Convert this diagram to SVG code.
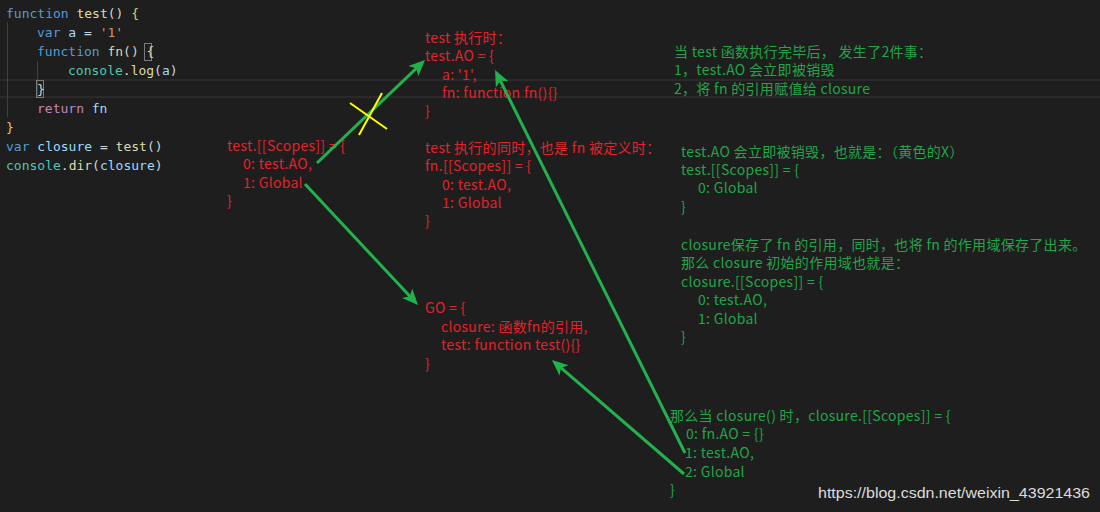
<svg xmlns="http://www.w3.org/2000/svg" width="1100" height="512" viewBox="0 0 1100 512">
<style>
.code{font-family:"DejaVu Sans Mono","Liberation Mono",monospace;font-size:13px;fill:#d4d4d4}
.kw{fill:#569cd6}.fnn{fill:#dcdcaa}.var{fill:#9cdcfe}.str{fill:#ce9178}.cls{fill:#4ec9b0}.ret{fill:#c586c0}.br{fill:#e6c862}
.t{font-family:"Noto Sans CJK SC","Noto Sans",sans-serif;font-size:14px;letter-spacing:0.3px}
.red{fill:#e3222b}.grn{fill:#21a549}
.wm{font-family:"Liberation Sans",Arial,sans-serif;font-size:14px;fill:#dcdcdc}
.arrow{stroke:#22b14c;stroke-width:3;fill:none;marker-end:url(#ah)}
.guide{stroke:#404040;stroke-width:1}
</style>
<defs>
<marker id="ah" markerUnits="userSpaceOnUse" markerWidth="18" markerHeight="16" refX="12" refY="7" orient="auto">
<path d="M0,0 L16,7 L0,14 L4,7 z" fill="#22b14c"/>
</marker>
</defs>
<rect width="1100" height="512" fill="#1e1e1e"/>
<g id="current-line">
<rect x="0" y="79" width="1100" height="2" fill="#2a2a2a"/>
<rect x="0" y="96" width="1100" height="2" fill="#2a2a2a"/>
</g>
<g id="code">
<line class="guide" x1="7.5" y1="22" x2="7.5" y2="117"/>
<line class="guide" x1="37.5" y1="61" x2="37.5" y2="98"/>
<rect x="144.5" y="43.5" width="7" height="17" fill="none" stroke="#7a7a7a"/>
<rect x="36.5" y="80.5" width="7" height="17" fill="none" stroke="#7a7a7a"/>
<text class="code" x="6" y="18"><tspan class="kw">function</tspan> <tspan class="fnn">test</tspan>() <tspan class="br">{</tspan></text>
<text class="code" x="37" y="37"><tspan class="kw">var</tspan> <tspan class="var">a</tspan> = <tspan class="str">'1'</tspan></text>
<text class="code" x="37" y="56"><tspan class="kw">function</tspan> <tspan class="fnn">fn</tspan>() {</text>
<text class="code" x="68" y="75"><tspan class="cls">console</tspan>.<tspan class="fnn">log</tspan>(<tspan class="var">a</tspan>)</text>
<text class="code" x="37" y="94">}</text>
<text class="code" x="37" y="113"><tspan class="ret">return</tspan> <tspan class="var">fn</tspan></text>
<text class="code" x="6" y="132"><tspan class="br">}</tspan></text>
<text class="code" x="6" y="151"><tspan class="kw">var</tspan> <tspan class="var">closure</tspan> = <tspan class="fnn">test</tspan>()</text>
<text class="code" x="6" y="170"><tspan class="cls">console</tspan>.<tspan class="fnn">dir</tspan>(<tspan class="var">closure</tspan>)</text>
</g>
<g id="test-scopes" class="t red">
<text x="227" y="151">test.[[Scopes]] = {</text>
<text x="243" y="169">0: test.AO,</text>
<text x="243" y="188">1: Global</text>
<text x="227" y="206">}</text>
</g>
<g id="test-ao" class="t red">
<text x="425" y="43">test 执行时：</text>
<text x="425" y="61">test.AO = {</text>
<text x="442" y="80">a: '1',</text>
<text x="442" y="98">fn: function fn(){}</text>
<text x="425" y="116">}</text>
</g>
<g id="fn-scopes" class="t red">
<text x="425" y="153">test 执行的同时，也是 fn 被定义时：</text>
<text x="425" y="171">fn.[[Scopes]] = {</text>
<text x="442" y="190">0: test.AO,</text>
<text x="442" y="208">1: Global</text>
<text x="425" y="226">}</text>
</g>
<g id="go" class="t red">
<text x="425" y="313">GO = {</text>
<text x="441" y="332">closure: 函数fn的引用,</text>
<text x="441" y="350">test: function test(){}</text>
<text x="425" y="369">}</text>
</g>
<g id="after-exec" class="t grn">
<text x="674" y="57">当 test 函数执行完毕后， 发生了2件事：</text>
<text x="674" y="75">1，test.AO 会立即被销毁</text>
<text x="674" y="94">2，将 fn 的引用赋值给 closure</text>
</g>
<g id="destroyed" class="t grn">
<text x="681" y="157">test.AO 会立即被销毁，也就是：（黄色的X）</text>
<text x="681" y="175">test.[[Scopes]] = {</text>
<text x="698" y="193">0: Global</text>
<text x="681" y="212">}</text>
</g>
<g id="closure-scopes" class="t grn">
<text x="681" y="250">closure保存了 fn 的引用，同时，也将 fn  的作用域保存了出来。</text>
<text x="681" y="268">那么 closure 初始的作用域也就是：</text>
<text x="681" y="287">closure.[[Scopes]] = {</text>
<text x="698" y="305">0: test.AO,</text>
<text x="698" y="324">1: Global</text>
<text x="681" y="342">}</text>
</g>
<g id="closure-call" class="t grn">
<text x="670" y="421">那么当 closure() 时，closure.[[Scopes]] = {</text>
<text x="686" y="439">0: fn.AO = {}</text>
<text x="685" y="458">1: test.AO,</text>
<text x="685" y="477">2: Global</text>
<text x="670" y="495">}</text>
</g>
<g id="connectors">
<line class="arrow" x1="317" y1="163" x2="422.1" y2="62.8"/>
<line class="arrow" x1="305" y1="184" x2="415.3" y2="302.1"/>
<line class="arrow" x1="685" y1="453" x2="496.8" y2="73.6"/>
<line class="arrow" x1="684" y1="474" x2="555" y2="362.6"/>
</g>
<g id="yellow-x" stroke="#ffff00" stroke-width="2">
<line x1="350" y1="103" x2="387" y2="129"/>
<line x1="382" y1="93" x2="359" y2="135"/>
</g>
<g id="watermark">
<text class="wm" x="818" y="498" textLength="272" lengthAdjust="spacingAndGlyphs">https://blog.csdn.net/weixin_43921436</text>
</g>
</svg>
